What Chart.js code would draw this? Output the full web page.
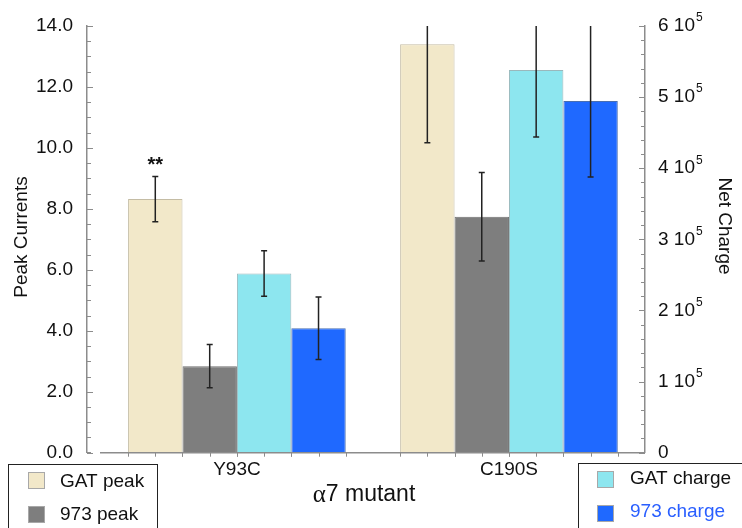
<!DOCTYPE html>
<html>
<head>
<meta charset="utf-8">
<script src="https://cdn.jsdelivr.net/npm/chart.js@4/dist/chart.umd.min.js"></script>
<style>
  html, body { margin: 0; padding: 0; background: #fff; }
  #wrap { width: 742px; height: 528px; }
</style>
</head>
<body>
<div id="wrap"><canvas id="barChart" width="742" height="528"></canvas></div>
<script>
// Data
var categories = ['Y93C', 'C190S'];

// peak currents (left axis)
var gatPeak = [8.32, 13.40];
var gatPeakErr = [0.74, 3.23];
var peak973 = [2.84, 7.74];
var peak973Err = [0.71, 1.45];

// net charge (right axis)
var gatCharge = [2.52e5, 5.38e5];
var gatChargeErr = [0.32e5, 0.94e5];
var charge973 = [1.75e5, 4.945e5];
var charge973Err = [0.44e5, 1.07e5];

var leftTicks = [0, 2, 4, 6, 8, 10, 12, 14];
var rightTicks = [0, 1, 2, 3, 4, 5, 6]; // x 10^5

function pts(arr) {
  return arr.map(function (v, i) { return { x: i, y: v }; });
}

var axisGray = '#8c8c8c';
var sans = "'Liberation Sans', Arial, sans-serif";

// error bars, axis decorations, legends and titles
var extras = {
  id: 'extras',
  afterDatasetsDraw: function (chart) {
    var ctx = chart.ctx;
    var area = chart.chartArea;
    var yL = chart.scales.yPeak, yR = chart.scales.yCharge;

    // error bars (clipped to plot area)
    ctx.save();
    ctx.beginPath();
    ctx.rect(area.left, area.top, area.right - area.left, area.bottom - area.top);
    ctx.clip();
    ctx.strokeStyle = '#222';
    ctx.lineWidth = 1.5;
    chart.data.datasets.forEach(function (ds, di) {
      var meta = chart.getDatasetMeta(di);
      var scale = chart.scales[ds.yAxisID];
      meta.data.forEach(function (bar, i) {
        var v = ds.data[i].y, e = ds.errors[i];
        var top = scale.getPixelForValue(v + e);
        var bot = scale.getPixelForValue(v - e);
        ctx.beginPath();
        ctx.moveTo(bar.x, top); ctx.lineTo(bar.x, bot);
        ctx.moveTo(bar.x - 3, top); ctx.lineTo(bar.x + 3, top);
        ctx.moveTo(bar.x - 3, bot); ctx.lineTo(bar.x + 3, bot);
        ctx.stroke();
      });
    });
    ctx.restore();

    ctx.save();
    // x axis line and small ticks at bar edges/centres
    ctx.strokeStyle = axisGray;
    ctx.lineWidth = 1.5;
    ctx.beginPath();
    ctx.moveTo(100, area.bottom); ctx.lineTo(area.right, area.bottom);
    ctx.moveTo(area.left, area.bottom); ctx.lineTo(area.left + 4, area.bottom);
    ctx.stroke();
    ctx.lineWidth = 1;
    ctx.beginPath();
    chart.data.datasets.forEach(function (ds, di) {
      chart.getDatasetMeta(di).data.forEach(function (bar) {
        [bar.x - bar.width / 2, bar.x, bar.x + bar.width / 2].forEach(function (x) {
          ctx.moveTo(Math.round(x) + 0.5, area.bottom);
          ctx.lineTo(Math.round(x) + 0.5, area.bottom + 4);
        });
      });
    });
    ctx.stroke();

    // y tick marks (inside)
    ctx.beginPath();
    for (var v = 0; v <= 14.001; v += 0.5) {
      var py = Math.round(yL.getPixelForValue(v)) + 0.5;
      var len = (Math.abs(v % 2) < 1e-6) ? 6 : 4;
      ctx.moveTo(area.left, py); ctx.lineTo(area.left + len, py);
    }
    for (var w = 0; w <= 6.001; w += 0.2) {
      var ry = Math.round(yR.getPixelForValue(w * 1e5)) + 0.5;
      var rlen = (Math.abs(w - Math.round(w)) < 1e-6) ? 6 : 4;
      ctx.moveTo(area.right, ry); ctx.lineTo(area.right - rlen, ry);
    }
    ctx.stroke();

    // right tick labels with superscript
    ctx.fillStyle = '#111';
    ctx.textBaseline = 'middle';
    ctx.textAlign = 'left';
    rightTicks.forEach(function (t) {
      var y = yR.getPixelForValue(t * 1e5);
      ctx.font = '19px ' + sans;
      if (t === 0) {
        ctx.fillText('0', 658, y);
      } else {
        var s = t + ' 10';
        ctx.fillText(s, 658, y);
        var wdt = ctx.measureText(s).width;
        ctx.font = '12px ' + sans;
        ctx.fillText('5', 658 + wdt + 1, y - 8);
      }
    });

    // axis titles
    ctx.font = '19px ' + sans;
    ctx.textAlign = 'center';
    ctx.save();
    ctx.translate(22, 237);
    ctx.rotate(-Math.PI / 2);
    ctx.fillText('Peak Currents', 0, 0);
    ctx.restore();
    ctx.save();
    ctx.translate(724, 226);
    ctx.rotate(Math.PI / 2);
    ctx.fillText('Net Charge', 0, 0);
    ctx.restore();

    // x title: alpha7 mutant
    ctx.textAlign = 'left';
    ctx.font = "25px 'Liberation Serif', serif";
    var aW = ctx.measureText('\u03b1').width;
    ctx.font = '23px ' + sans;
    var rest = '7 mutant';
    var rW = ctx.measureText(rest).width;
    var x0 = 364 - (aW + rW) / 2;
    ctx.font = "25px 'Liberation Serif', serif";
    ctx.fillText('\u03b1', x0, 495);
    ctx.font = '23px ' + sans;
    ctx.fillText(rest, x0 + aW, 495);

    // significance marker
    ctx.font = 'bold 20px ' + sans;
    ctx.textAlign = 'center';
    ctx.fillText('**', chart.getDatasetMeta(0).data[0].x, 165);

    // legend boxes
    ctx.strokeStyle = '#222';
    ctx.lineWidth = 1;
    ctx.strokeRect(8.5, 464.5, 149, 80);
    ctx.strokeRect(578.5, 463.5, 180, 80);
    var items = [
      { ds: 0, x: 28, y: 472, tx: 60, ty: 482, color: '#111' },
      { ds: 1, x: 28, y: 506, tx: 60, ty: 515, color: '#111' },
      { ds: 2, x: 597, y: 471, tx: 630, ty: 479, color: '#111' },
      { ds: 3, x: 597, y: 505, tx: 630, ty: 512, color: '#2a5fff' }
    ];
    ctx.textAlign = 'left';
    ctx.font = '19px ' + sans;
    items.forEach(function (it) {
      var ds = chart.data.datasets[it.ds];
      ctx.fillStyle = ds.backgroundColor;
      ctx.fillRect(it.x, it.y, 17, 17);
      ctx.strokeStyle = '#a8a8a8';
      ctx.strokeRect(it.x + 0.5, it.y + 0.5, 16, 16);
      ctx.fillStyle = it.color;
      ctx.fillText(ds.label, it.tx, it.ty);
    });
    ctx.restore();
  }
};

var ctx = document.getElementById('barChart').getContext('2d');

var myChart = new Chart(ctx, {
  type: 'bar',
  data: {
    datasets: [
      { label: 'GAT peak', data: pts(gatPeak), errors: gatPeakErr, yAxisID: 'yPeak',
        backgroundColor: '#f2e8c9', borderColor: '#c4bca4', borderWidth: 1 },
      { label: '973 peak', data: pts(peak973), errors: peak973Err, yAxisID: 'yPeak',
        backgroundColor: '#7e7e7e', borderColor: '#707070', borderWidth: 1 },
      { label: 'GAT charge', data: pts(gatCharge), errors: gatChargeErr, yAxisID: 'yCharge',
        backgroundColor: '#8de6ef', borderColor: '#9ab8bc', borderWidth: 1 },
      { label: '973 charge', data: pts(charge973), errors: charge973Err, yAxisID: 'yCharge',
        backgroundColor: '#1f69ff', borderColor: '#4a6fb0', borderWidth: 1 }
    ]
  },
  options: {
    responsive: false,
    animation: false,
    categoryPercentage: 0.8,
    barPercentage: 1.0,
    layout: { padding: { top: 26, left: 0, right: 0, bottom: 0 } },
    plugins: { legend: { display: false }, tooltip: { enabled: false } },
    scales: {
      x: {
        type: 'linear',
        offset: false,
        min: -0.551,
        max: 1.5,
        grid: { display: false, drawTicks: false, offset: false },
        border: { display: false },
        afterBuildTicks: function (scale) {
          scale.ticks = categories.map(function (c, i) { return { value: i }; });
        },
        afterFit: function (scale) { scale.height = 75.3; },
        ticks: {
          padding: 6,
          color: '#111',
          font: { family: sans, size: 19 },
          callback: function (v) { return categories[v]; }
        }
      },
      yPeak: {
        position: 'left',
        min: 0,
        max: 14,
        grid: { display: false, drawTicks: false },
        border: { color: axisGray, width: 1.5 },
        afterFit: function (scale) { scale.width = 87; },
        afterBuildTicks: function (scale) {
          scale.ticks = leftTicks.map(function (v) { return { value: v }; });
        },
        ticks: {
          padding: 14,
          color: '#111',
          font: { family: sans, size: 19 },
          callback: function (v) { return v.toFixed(1); }
        }
      },
      yCharge: {
        position: 'right',
        min: 0,
        max: 6e5,
        grid: { display: false, drawTicks: false },
        border: { color: axisGray, width: 1.5 },
        afterFit: function (scale) { scale.width = 97; },
        ticks: { display: false }
      }
    }
  },
  plugins: [extras]
});
</script>
</body>
</html>
